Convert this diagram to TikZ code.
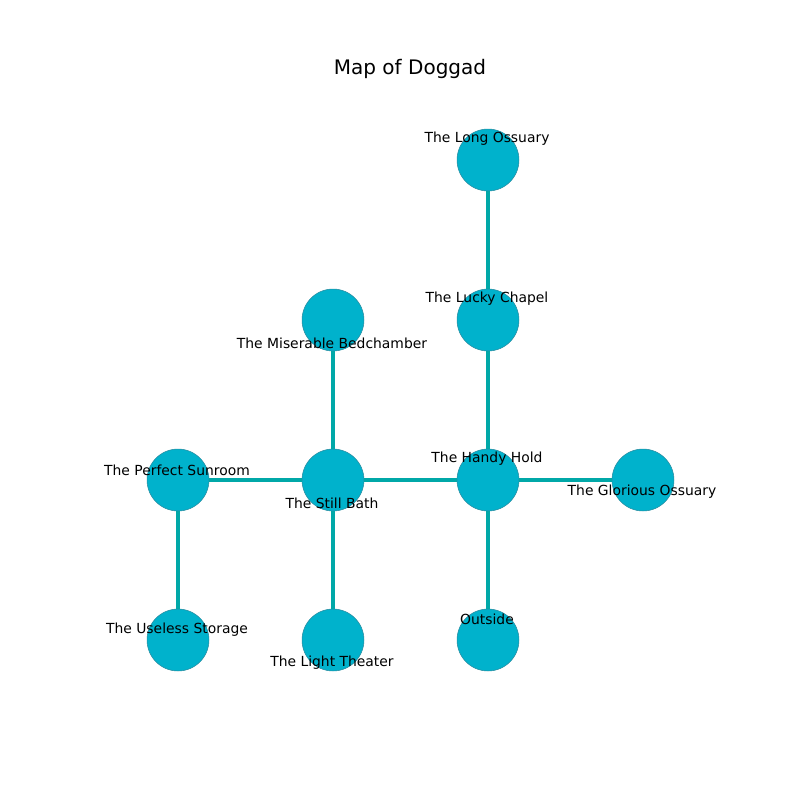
\documentclass[tikz,border=0pt]{standalone}
\usepackage{fontspec}
\setmainfont{DejaVu Sans}
\definecolor{nodefill}{RGB}{0,178,204}
\definecolor{nodeedge}{RGB}{40,140,160}
\definecolor{edgecol}{RGB}{0,168,168}
\begin{document}
\begin{tikzpicture}[x=0.72pt,y=-0.72pt,
  room/.style={circle,fill=nodefill,draw=nodeedge,line width=0.4pt,minimum size=44.6pt,inner sep=0pt},
  lbl/.style={font=\fontsize{10}{12}\selectfont,inner sep=0pt,anchor=center},
  link/.style={draw=edgecol,line width=3.2pt}]
\useasboundingbox (0,0) rectangle (800,800);
\node[font=\fontsize{14.4}{17}\selectfont,inner sep=0pt] (title) at (410,69) {Map of Doggad};
% rooms
\coordinate (pLong) at (488,160);
\coordinate (pLucky) at (488,320);
\coordinate (pMis) at (333,320);
\coordinate (pPerf) at (178,480);
\coordinate (pStill) at (333,480);
\coordinate (pHandy) at (488,480);
\coordinate (pGlor) at (643,480);
\coordinate (pUse) at (178,640);
\coordinate (pLight) at (333,640);
\coordinate (pOut) at (488,640);
% edges
\draw[link] (pLong) -- (pLucky);
\draw[link] (pLucky) -- (pHandy);
\draw[link] (pHandy) -- (pOut);
\draw[link] (pHandy) -- (pGlor);
\draw[link] (pHandy) -- (pStill);
\draw[link] (pStill) -- (pMis);
\draw[link] (pStill) -- (pLight);
\draw[link] (pStill) -- (pPerf);
\draw[link] (pPerf) -- (pUse);
% nodes
\node[room] (long) at (pLong) {};
\node[room] (lucky) at (pLucky) {};
\node[room] (mis) at (pMis) {};
\node[room] (perf) at (pPerf) {};
\node[room] (still) at (pStill) {};
\node[room] (handy) at (pHandy) {};
\node[room] (glor) at (pGlor) {};
\node[room] (use) at (pUse) {};
\node[room] (light) at (pLight) {};
\node[room] (out) at (pOut) {};
% labels
\node[lbl] (lLong) at (487,139) {The Long Ossuary};
\node[lbl] (lLucky) at (487,299) {The Lucky Chapel};
\node[lbl] (lMis) at (332,343) {The Miserable Bedchamber};
\node[lbl] (lPerf) at (177,470) {The Perfect Sunroom};
\node[lbl] (lStill) at (332,503) {The Still Bath};
\node[lbl] (lHandy) at (487,459) {The Handy Hold};
\node[lbl] (lGlor) at (642,492) {The Glorious Ossuary};
\node[lbl] (lUse) at (177,630) {The Useless Storage};
\node[lbl] (lLight) at (332,663) {The Light Theater};
\node[lbl] (lOut) at (487,619) {Outside};
\end{tikzpicture}
\end{document}
